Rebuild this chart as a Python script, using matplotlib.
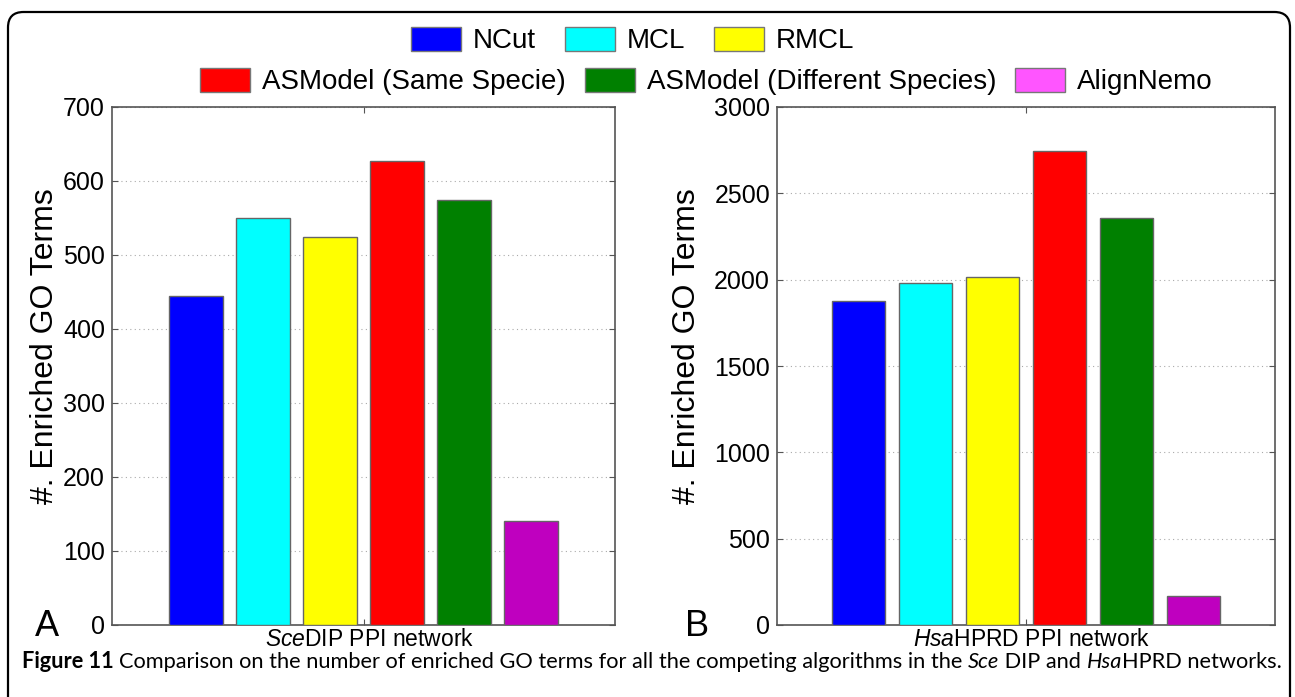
import matplotlib
matplotlib.use("Agg")
import matplotlib.pyplot as plt
import numpy as np
from matplotlib.patches import FancyBboxPatch, Patch
from matplotlib.offsetbox import HPacker, TextArea, AnnotationBbox

# data
methods = ["NCut", "MCL", "RMCL", "ASModel (Same Specie)",
           "ASModel (Different Species)", "AlignNemo"]
sce_dip = [445, 550, 525, 627, 575, 140]
hsa_hprd = [1878, 1979, 2014, 2747, 2357, 167]
bar_colors = ["#0000ff", "#00ffff", "#ffff00", "#ff0000", "#008000", "#bf00bf"]
legend_colors = ["#0000ff", "#00ffff", "#ffff00", "#ff0000", "#008000", "#ff55ff"]

W, H = 1295, 697
plt.rcParams["font.family"] = ["Liberation Sans", "DejaVu Sans"]
plt.rcParams["mathtext.fontset"] = "custom"
plt.rcParams["mathtext.rm"] = "Liberation Sans"
plt.rcParams["mathtext.it"] = "Liberation Sans:italic"
plt.rcParams["mathtext.bf"] = "Liberation Sans:bold"

fig = plt.figure(figsize=(W / 100, H / 100), dpi=100)

# rounded frame around the whole figure
frame = FancyBboxPatch((8 / W, -0.1), (1290 - 8) / W, 1 - 12 / H + 0.1,
                       boxstyle="round,pad=0,rounding_size=0.012",
                       transform=fig.transFigure, facecolor="none",
                       edgecolor="black", linewidth=1.6, mutation_aspect=W / H)
fig.patches.append(frame)

SPINE = "#555555"
pitch = 67  # px between bar centres


def panel(rect, values, ymax, ystep, xlabel, ylab_x):
    ax = fig.add_axes([rect[0] / W, 1 - rect[1] / H, rect[2] / W, rect[3] / H])
    x = np.arange(len(values)) - (len(values) - 1) / 2
    ax.bar(x, values, width=0.8, color=bar_colors, edgecolor="#666666",
           linewidth=1.0, zorder=3)
    half = rect[2] / 2 / pitch
    ax.set_xlim(-half, half)
    ax.set_ylim(0, ymax)
    ax.set_yticks(np.arange(0, ymax + 1, ystep))
    ax.set_xticks([0])
    ax.set_xticklabels([])
    ax.tick_params(direction="in", top=True, right=True, length=4, width=0.8,
                   color=SPINE, labelsize=18, pad=5)
    for s in ax.spines.values():
        s.set_color(SPINE)
        s.set_linewidth(1.2)
    ax.yaxis.grid(True, linestyle=(0, (1, 3)), color="#aaaaaa", linewidth=0.8)
    ax.set_axisbelow(True)
    ax.set_ylabel("#. Enriched GO Terms", fontsize=23)
    ax.yaxis.set_label_coords(ylab_x, 0.539)
    ax.set_xlabel(xlabel, fontsize=16.5, labelpad=0)
    ax.xaxis.set_label_coords(0.512, -0.006)
    return ax


ax1 = panel((112, 625, 503, 518), sce_dip, 700, 100,
            r"$\mathit{Sce}$DIP PPI network", -0.103)
ax2 = panel((777, 625, 498, 518), hsa_hprd, 3000, 500,
            r"$\mathit{Hsa}$HPRD PPI network", -0.151)

fig.text(35 / W, 1 - 636 / H, "A", fontsize=26, va="baseline")
fig.text(685 / W, 1 - 636 / H, "B", fontsize=26, va="baseline")

# two-row legend at the top
handles = [Patch(facecolor=c, edgecolor="#777777", linewidth=1.0) for c in legend_colors]
common = dict(frameon=False, fontsize=20, handlelength=1.8, handleheight=0.95,
              handletextpad=0.43, borderpad=0, borderaxespad=0, loc="center left")
fig.legend(handles[:3], methods[:3], ncol=3, columnspacing=1.04,
           bbox_to_anchor=(411 / W, 1 - 40.5 / H), **common)
fig.legend(handles[3:], methods[3:], ncol=3, columnspacing=0.68,
           bbox_to_anchor=(200 / W, 1 - 81.5 / H), **common)

# caption with mixed bold / italic runs
cap_font = dict(family=["Lato", "DejaVu Sans"], size=15.7, color="black")
runs = [("Figure 11 ", "bold", "normal"),
        ("Comparison on the number of enriched GO terms for all the competing algorithms in the ", "normal", "normal"),
        ("Sce", "normal", "italic"),
        (" DIP and ", "normal", "normal"),
        ("Hsa", "normal", "italic"),
        ("HPRD networks.", "normal", "normal")]
areas = [TextArea(t, textprops=dict(cap_font, weight=w, style=st)) for t, w, st in runs]
pack = HPacker(children=areas, sep=0, pad=0, align="baseline")
ab = AnnotationBbox(pack, (22, H - 661), xycoords="figure pixels",
                    box_alignment=(0, 0.5), frameon=False, pad=0)
fig.add_artist(ab)

fig.savefig("out.png", dpi=100)
